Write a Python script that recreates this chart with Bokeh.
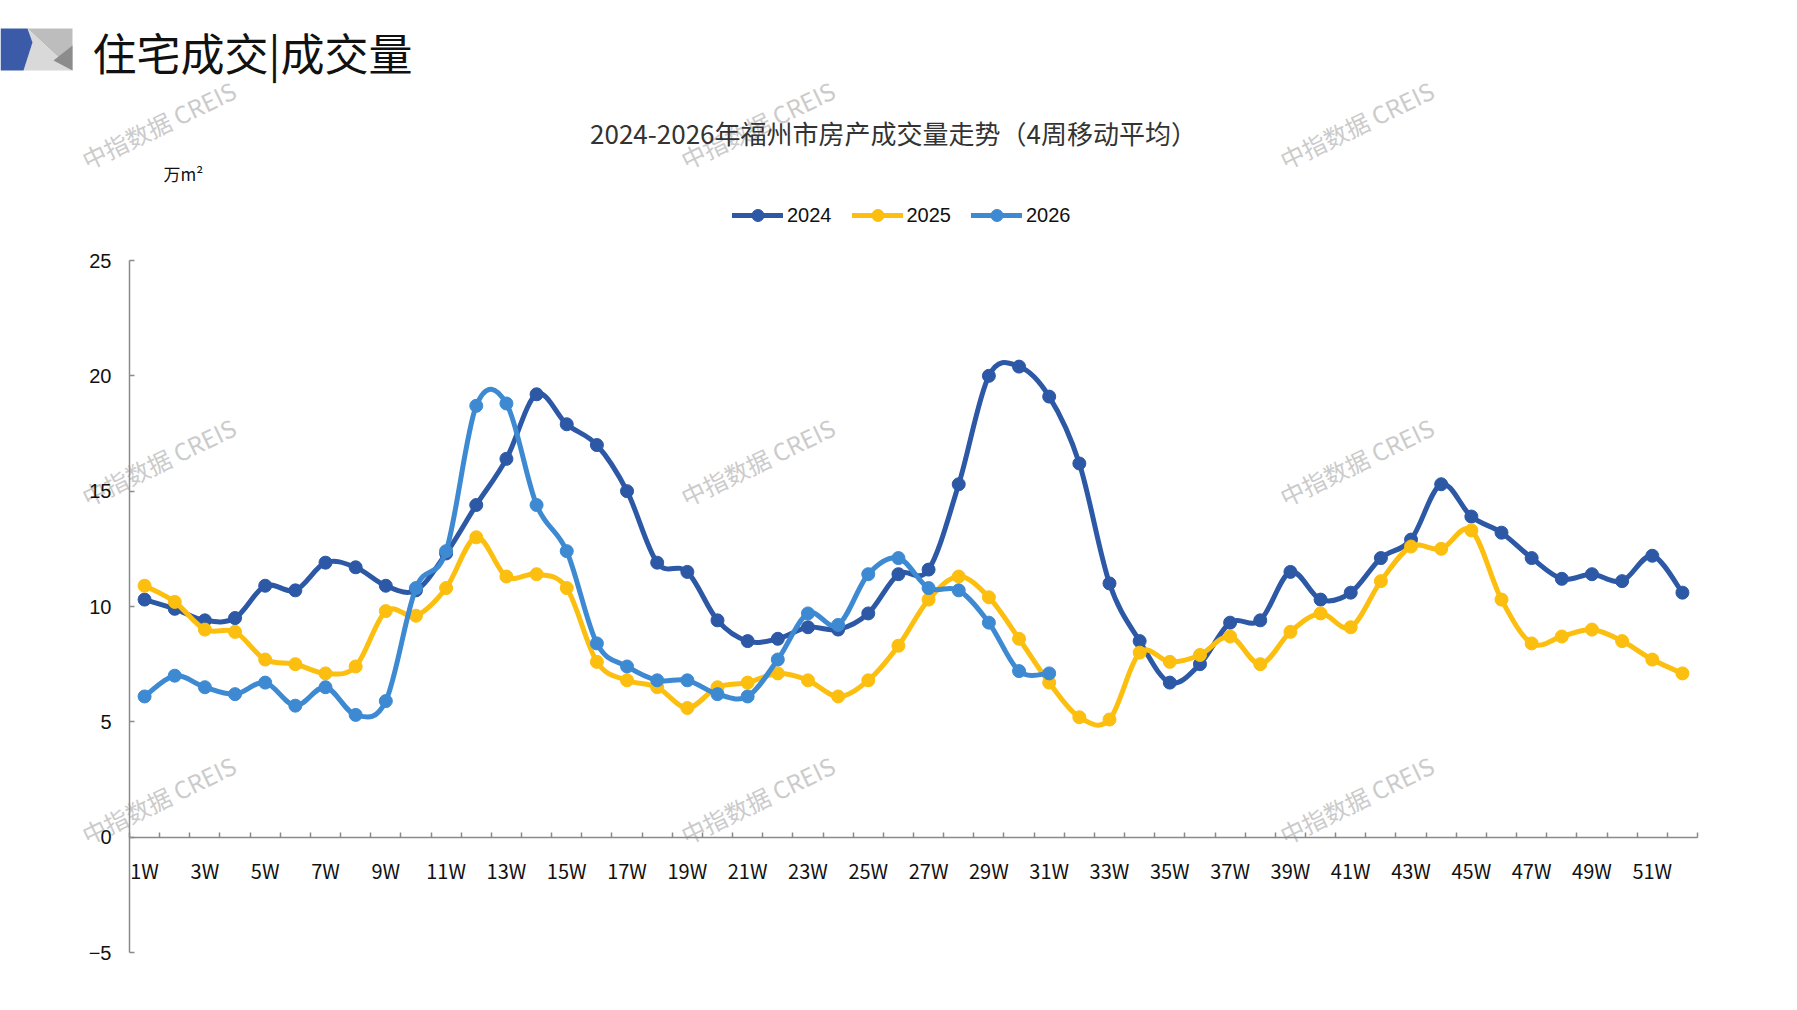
from bokeh.plotting import figure
from bokeh.models import (Range1d, FixedTicker, LinearAxis, CustomJSTickFormatter,
                          Legend, LegendItem, Label)
from bokeh.embed import file_html
from bokeh.resources import INLINE

# ---------------- data ----------------
weeks = list(range(1, 53))
week_labels = [f"{w}W" for w in weeks]

vol_2024 = [10.3, 9.9, 9.4, 9.5, 10.9, 10.7, 11.9, 11.7, 10.9, 10.7,
            12.3, 14.4, 16.4, 19.2, 17.9, 17.0, 15.0, 11.9, 11.5, 9.4,
            8.5, 8.6, 9.1, 9.0, 9.7, 11.4, 11.6, 15.3, 20.0, 20.4,
            19.1, 16.2, 11.0, 8.5, 6.7, 7.5, 9.3, 9.4, 11.5, 10.3,
            10.6, 12.1, 12.9, 15.3, 13.9, 13.2, 12.1, 11.2, 11.4, 11.1,
            12.2, 10.6]
vol_2025 = [10.9, 10.2, 9.0, 8.9, 7.7, 7.5, 7.1, 7.4, 9.8, 9.6,
            10.8, 13.0, 11.3, 11.4, 10.8, 7.6, 6.8, 6.5, 5.6, 6.5,
            6.7, 7.1, 6.8, 6.1, 6.8, 8.3, 10.3, 11.3, 10.4, 8.6,
            6.7, 5.2, 5.1, 8.0, 7.6, 7.9, 8.7, 7.5, 8.9, 9.7,
            9.1, 11.1, 12.6, 12.5, 13.3, 10.3, 8.4, 8.7, 9.0, 8.5,
            7.7, 7.1]
vol_2026 = [6.1, 7.0, 6.5, 6.2, 6.7, 5.7, 6.5, 5.3, 5.9, 10.8,
            12.4, 18.7, 18.8, 14.4, 12.4, 8.4, 7.4, 6.8, 6.8, 6.2,
            6.1, 7.7, 9.7, 9.2, 11.4, 12.1, 10.8, 10.7, 9.3, 7.2,
            7.1]

series_names = ["2024", "2025", "2026"]
series_values = [vol_2024, vol_2025, vol_2026]
series_colors = ["#2C58A6", "#FCBF0F", "#3D8AD3"]

y_ticks = [-5, 0, 5, 10, 15, 20, 25]
Y_MIN, Y_MAX = -5, 25
X_MIN, X_MAX = 0.5, 52.5

# ---------------- layout (pixels inside the figure) ----------------
FW, FH = 1781, 990
PX_LEFT, PX_RIGHT = 129, 1697      # x = 0.5 / 52.5
PX_TOP, PX_BOTTOM = 260, 952       # y = 25 / -5
SX = (PX_RIGHT - PX_LEFT) / (X_MAX - X_MIN)
SY = (PX_BOTTOM - PX_TOP) / (Y_MAX - Y_MIN)


def dx(px):
    return X_MIN + (px - PX_LEFT) / SX


def dy(py):
    return Y_MAX - (py - PX_TOP) / SY


def smooth_segments(xs, ys):
    """Bezier control points for an Excel-style smoothed line through the data."""
    n = len(xs)
    seg = dict(x0=[], y0=[], x1=[], y1=[], cx0=[], cy0=[], cx1=[], cy1=[])
    for i in range(n - 1):
        xp, yp = (xs[i - 1], ys[i - 1]) if i > 0 else (xs[i], ys[i])
        xn, yn = (xs[i + 2], ys[i + 2]) if i + 2 < n else (xs[i + 1], ys[i + 1])
        seg["x0"].append(xs[i]); seg["y0"].append(ys[i])
        seg["x1"].append(xs[i + 1]); seg["y1"].append(ys[i + 1])
        seg["cx0"].append(xs[i] + (xs[i + 1] - xp) / 6)
        seg["cy0"].append(ys[i] + (ys[i + 1] - yp) / 6)
        seg["cx1"].append(xs[i + 1] - (xn - xs[i]) / 6)
        seg["cy1"].append(ys[i + 1] - (yn - ys[i]) / 6)
    return seg


CJK = "Noto Sans CJK SC"

p = figure(width=FW, height=FH,
           x_range=Range1d(dx(0), dx(FW)), y_range=Range1d(dy(FH), dy(0)),
           toolbar_location=None, output_backend="svg", title=None,
           min_border=0)
p.outline_line_color = None
p.grid.visible = False

# ---------------- header logo + title ----------------
logo = [
    ([27, 72, 72], [28, 28, 70], "#BDBDBD"),
    ([27, 72, 23, 32], [28, 70, 70, 42], "#D9D9D9"),
    ([72, 53, 72], [45, 60, 70], "#8C8C8C"),
    ([0, 27, 32, 23, 0], [28, 28, 42, 70, 70], "#3B5AA8"),
]
for xs, ys, col in logo:
    p.patch([dx(v) for v in xs], [dy(v) for v in ys], color=col, line_width=0)

p.add_layout(Label(x=dx(92), y=dy(51), text="住宅成交|成交量", text_font=CJK,
                   text_font_size="44px", text_color="#111111",
                   text_baseline="middle", text_align="left"))

# ---------------- watermarks ----------------
for wx in (158, 757, 1356):
    for wy in (124, 461, 799):
        p.add_layout(Label(x=dx(wx), y=dy(wy), text="中指数据 CREIS", text_font=CJK,
                           text_font_size="24px", text_color="#CBCBCB",
                           angle=0.45, text_align="center", text_baseline="middle",
                           level="underlay"))

# ---------------- series ----------------
items = []
for name, vals, col in zip(series_names, series_values, series_colors):
    xs = weeks[:len(vals)]
    seg = smooth_segments(xs, vals)
    ln = p.bezier(x0=seg["x0"], y0=seg["y0"], x1=seg["x1"], y1=seg["y1"],
                  cx0=seg["cx0"], cy0=seg["cy0"], cx1=seg["cx1"], cy1=seg["cy1"],
                  line_color=col, line_width=5, line_cap="round")
    sc = p.scatter(xs, vals, size=13, fill_color=col, line_color=col)
    items.append(LegendItem(label=name, renderers=[ln, sc]))

# ---------------- y axis ----------------
ya = p.yaxis[0]
ya.fixed_location = X_MIN
ya.bounds = (Y_MIN, Y_MAX)
ya.ticker = FixedTicker(ticks=y_ticks)
ya.axis_line_color = "#8A8A8A"
ya.axis_line_width = 1.5
ya.major_tick_line_color = "#8A8A8A"
ya.major_tick_line_width = 1.5
ya.major_tick_in = 5
ya.major_tick_out = 0
ya.minor_tick_line_color = None
ya.major_label_text_font = "Liberation Sans"
ya.major_label_text_font_size = "20px"
ya.major_label_text_color = "#111111"
ya.major_label_standoff = 18

# ---------------- x axis at y = 0 ----------------
xa = p.xaxis[0]
xa.fixed_location = 0
xa.bounds = (X_MIN, X_MAX)
xa.ticker = FixedTicker(ticks=[w - 0.5 for w in weeks] + [X_MAX])
xa.formatter = CustomJSTickFormatter(code="return ''")
xa.axis_line_color = "#8A8A8A"
xa.axis_line_width = 1.5
xa.major_tick_line_color = "#8A8A8A"
xa.major_tick_line_width = 1.5
xa.major_tick_in = 5
xa.major_tick_out = 0
xa.minor_tick_line_color = None

xl = LinearAxis(fixed_location=0, bounds=(X_MIN, X_MAX),
                ticker=FixedTicker(ticks=weeks[::2]),
                formatter=CustomJSTickFormatter(args=dict(labels=week_labels),
                                                code="return labels[Math.round(tick) - 1]"),
                axis_line_color=None, major_tick_line_color=None,
                minor_tick_line_color=None, major_label_standoff=13,
                major_label_text_font=CJK, major_label_text_font_size="20px",
                major_label_text_color="#111111")
p.add_layout(xl, "below")

# ---------------- chart title, unit ----------------
p.add_layout(Label(x=dx(893), y=dy(132), text="2024-2026年福州市房产成交量走势（4周移动平均）",
                   text_font=CJK, text_font_size="26px", text_color="#333333",
                   text_align="center", text_baseline="middle"))
p.add_layout(Label(x=dx(163), y=dy(173), text="万m²", text_font=CJK,
                   text_font_size="17px", text_color="#111111",
                   text_align="left", text_baseline="middle"))

# ---------------- legend ----------------
legend = Legend(items=items, orientation="horizontal", location=(732, FH - 215 - 15),
                border_line_color=None, background_fill_alpha=0,
                label_text_font="Liberation Sans", label_text_font_size="20px",
                label_text_color="#111111", glyph_width=51, glyph_height=30,
                label_standoff=4, spacing=20, padding=0, margin=0)
p.add_layout(legend, "center")

open("out.html", "w").write(file_html(p, INLINE))
